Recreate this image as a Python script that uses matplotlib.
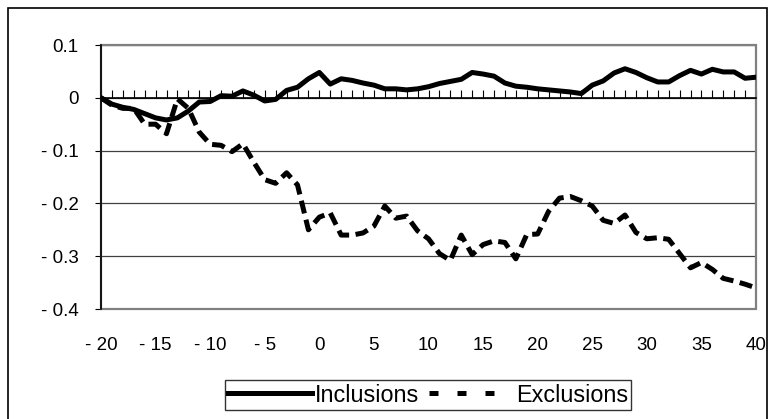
import matplotlib.pyplot as plt
from matplotlib.patches import Rectangle
from matplotlib.ticker import MultipleLocator

plt.rcParams['font.family'] = ['Liberation Sans', 'DejaVu Sans']

# event time, -20 .. 40
days = list(range(-20, 41))
inclusions = [0.0, -0.012, -0.018, -0.022, -0.03, -0.038, -0.042, -0.038, -0.025, -0.008,
              -0.007, 0.004, 0.003, 0.013, 0.005, -0.006, -0.003, 0.014, 0.02, 0.036,
              0.048, 0.026, 0.036, 0.033, 0.028, 0.024, 0.017, 0.017, 0.015, 0.017,
              0.021, 0.027, 0.031, 0.035, 0.048, 0.045, 0.041, 0.028, 0.022, 0.02,
              0.017, 0.015, 0.013, 0.011, 0.008, 0.024, 0.032, 0.047, 0.055, 0.048,
              0.038, 0.03, 0.03, 0.042, 0.052, 0.045, 0.054, 0.049, 0.049, 0.037,
              0.039]
exclusions = [0.0, -0.014, -0.02, -0.02, -0.05, -0.05, -0.068, -0.002, -0.02, -0.065,
              -0.088, -0.09, -0.102, -0.087, -0.122, -0.155, -0.162, -0.142, -0.165, -0.25,
              -0.226, -0.218, -0.26, -0.26, -0.256, -0.243, -0.205, -0.228, -0.224, -0.252,
              -0.267, -0.295, -0.308, -0.26, -0.297, -0.278, -0.271, -0.274, -0.305, -0.259,
              -0.258, -0.215, -0.19, -0.187, -0.195, -0.205, -0.232, -0.238, -0.222, -0.255,
              -0.267, -0.265, -0.268, -0.295, -0.322, -0.312, -0.325, -0.342, -0.347, -0.353,
              -0.36]
x_labels = [-20, -15, -10, -5, 0, 5, 10, 15, 20, 25, 30, 35, 40]
y_ticks = [0.1, 0, -0.1, -0.2, -0.3, -0.4]


def fmt(v):
    if v < 0:
        return '- ' + f'{abs(v):g}'
    return f'{v:g}'


fig = plt.figure(figsize=(7.69, 4.19), dpi=100)

# chart border
fig.patches.append(Rectangle((8 / 769, -0.02), 759 / 769, 1.02 - 8 / 419,
                             transform=fig.transFigure, fill=False,
                             edgecolor='black', lw=1.2))

ax = fig.add_axes([101 / 769, 1 - 309 / 419, 655 / 769, 264 / 419])

ax.plot(days, inclusions, color='black', lw=3.6, solid_joinstyle='round',
        label='Inclusions', zorder=4)
ax.plot(days, exclusions, color='black', lw=3.6, dashes=(2.6, 1.3),
        label='Exclusions', zorder=4)

ax.set_xlim(-20, 40)
ax.set_ylim(-0.4, 0.1)

# gray plot area border
ax.add_patch(Rectangle((0, 0), 1, 1, transform=ax.transAxes, fill=False,
                       edgecolor='#808080', lw=1.6, clip_on=False, zorder=2))
ax.spines['top'].set_visible(False)
ax.spines['right'].set_visible(False)
ax.spines['left'].set_color('black')
ax.spines['left'].set_linewidth(1.2)
ax.spines['left'].set_zorder(3)

# category axis crosses at zero, ticks every unit
ax.spines['bottom'].set_position(('data', 0))
ax.spines['bottom'].set_linewidth(1.2)
ax.xaxis.set_major_locator(MultipleLocator(1))
ax.tick_params(axis='x', direction='in', length=6, width=0.8,
               labelbottom=False)

ax.set_yticks(y_ticks)
ax.set_yticklabels([fmt(v) for v in y_ticks])
ax.tick_params(axis='y', direction='out', length=4, width=0.8,
               labelsize=13.5, pad=12)
ax.yaxis.grid(True, color='#404040', lw=0.9)
ax.set_axisbelow(True)

# tick labels at the bottom of the plot area
sec = ax.secondary_xaxis('bottom')
sec.set_xticks(x_labels)
sec.set_xticklabels([fmt(v) for v in x_labels])
sec.spines['bottom'].set_visible(False)
sec.tick_params(length=0, labelsize=13.5, pad=20)

leg = fig.legend(loc='center', bbox_to_anchor=(428 / 769, 1 - 395 / 419),
                 ncol=2, fontsize=16.8, frameon=True, fancybox=False,
                 edgecolor='black', handlelength=3.6, handletextpad=0.1,
                 columnspacing=0.45, borderpad=0.15, borderaxespad=0)
leg.get_frame().set_linewidth(1.0)
leg.get_lines()[1].set_dashes((1.8, 3.8))

fig.savefig('out.png', dpi=100)
